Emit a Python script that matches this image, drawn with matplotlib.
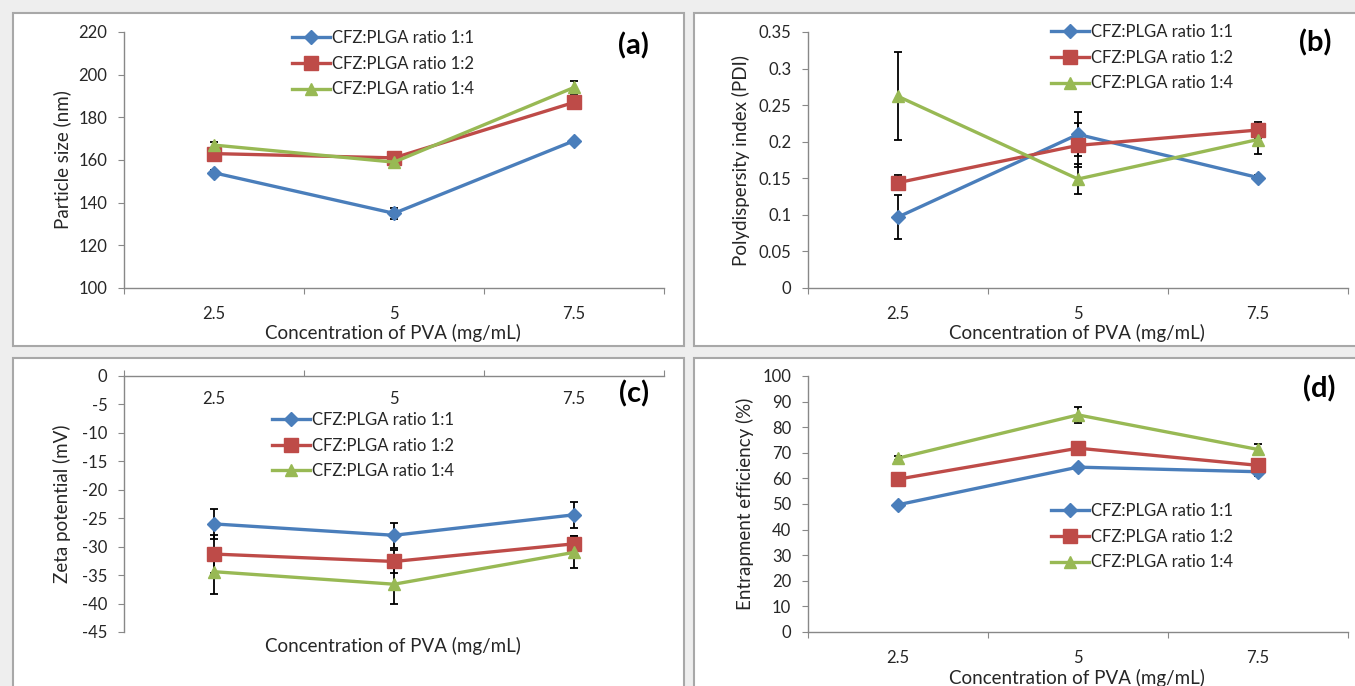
import matplotlib
matplotlib.use("Agg")
import matplotlib.pyplot as plt
from matplotlib.patches import Rectangle

plt.rcParams['font.family'] = ['Lato', 'DejaVu Sans']

conc_labels = ["2.5", "5", "7.5"]
series_names = ["CFZ:PLGA ratio 1:1", "CFZ:PLGA ratio 1:2", "CFZ:PLGA ratio 1:4"]

size_vals = [[154, 135, 169], [163, 161, 187], [167, 159, 194]]
size_err = [[1.5, 2.5, 1.0], [2.0, 2.0, 3.0], [1.5, 1.5, 3.0]]

pdi_vals = [[0.097, 0.210, 0.151], [0.144, 0.195, 0.216], [0.262, 0.149, 0.203]]
pdi_err = [[0.030, 0.030, 0.003], [0.010, 0.030, 0.011], [0.060, 0.020, 0.020]]

zeta_vals = [[-26.0, -28.0, -24.4], [-31.3, -32.6, -29.5], [-34.4, -36.6, -31.0]]
zeta_err = [[2.7, 2.2, 2.3], [3.3, 2.0, 1.4], [3.9, 3.4, 2.8]]

ee_vals = [[49.7, 64.4, 62.6], [59.7, 71.8, 65.1], [67.9, 84.8, 71.3]]
ee_err = [[0.5, 0.8, 1.5], [0.8, 0.8, 1.0], [0.8, 3.0, 2.2]]

colors = ["#4a7ebb", "#be4b48", "#98b954"]
markers = ["D", "s", "^"]
msizes = [7, 9.5, 8.5]

W, H = 1355, 686
fig = plt.figure(figsize=(W / 100, H / 100), dpi=100)
fig.patch.set_facecolor("#eeeeee")

def frac_rect(x0, y0, x1, y1):
    return (x0 / W, 1 - y1 / H, (x1 - x0) / W, (y1 - y0) / H)

# panel frames
for (x0, y0, x1, y1) in [(13, 13, 684, 346), (694, 13, 1362, 346),
                         (13, 358, 684, 700), (694, 358, 1362, 700)]:
    l, b, w, h = frac_rect(x0, y0, x1, y1)
    fig.patches.append(Rectangle((l, b), w, h, transform=fig.transFigure,
                                 facecolor="white", edgecolor="#a8a8a8", lw=1.5,
                                 zorder=-10))

txtc = "#262626"
TICK_FS = 12
LAB_FS = 13.5
LEG_FS = 12

def make_panel(rect, vals, errs, ylim, yticks, ylabel, tag, tagpos,
               legpos, xlabel_pos, ylabel_x, top_axis=False):
    ax = fig.add_axes(frac_rect(*rect))
    ax.set_facecolor("none")
    x = list(range(len(conc_labels)))
    lines = []
    for i in range(3):
        ax.errorbar(x, vals[i], yerr=errs[i], fmt="none", ecolor="black",
                    elinewidth=1.3, capsize=3, capthick=1.3, zorder=2)
        ln, = ax.plot(x, vals[i], color=colors[i], lw=2.4, marker=markers[i],
                      markersize=msizes[i], markeredgecolor=colors[i], zorder=3,
                      label=series_names[i])
        lines.append(ln)
    ax.set_xlim(-0.5, 2.5)
    ax.set_ylim(*ylim)
    ax.set_yticks(yticks)
    ax.set_yticklabels([f"{v:g}" for v in yticks])
    ax.spines["right"].set_visible(False)
    if top_axis:
        ax.spines["bottom"].set_visible(False)
    else:
        ax.spines["top"].set_visible(False)
    for s in ["left", "top", "bottom"]:
        ax.spines[s].set_color("#888888")
        ax.spines[s].set_linewidth(1.0)
    ax.tick_params(axis="y", direction="out", length=4, color="#888888",
                   labelsize=TICK_FS, labelcolor=txtc, pad=8)
    ax.set_xticks([-0.5, 0.5, 1.5, 2.5])
    ax.set_xticks(x, minor=True)
    ax.set_xticklabels([], minor=False)
    ax.set_xticklabels(conc_labels, minor=True)
    if top_axis:
        ax.tick_params(axis="x", which="major", bottom=False, top=True,
                       direction="out", length=4, color="#888888")
        ax.tick_params(axis="x", which="minor", bottom=False, top=True,
                       labeltop=True, labelbottom=False, length=0,
                       pad=-22, labelsize=TICK_FS, labelcolor=txtc)
    else:
        ax.tick_params(axis="x", which="major", direction="out", length=4,
                       color="#888888")
        ax.tick_params(axis="x", which="minor", length=0, pad=13,
                       labelsize=TICK_FS, labelcolor=txtc)
    fig.text(xlabel_pos[0] / W, 1 - xlabel_pos[1] / H, "Concentration of PVA (mg/mL)",
             ha="center", va="center", fontsize=LAB_FS, color=txtc)
    fig.text(ylabel_x / W, 1 - (rect[1] + rect[3]) / 2 / H, ylabel, rotation=90,
             ha="center", va="center", fontsize=LAB_FS, color=txtc)
    fig.text(tagpos[0] / W, 1 - tagpos[1] / H, tag, ha="center", va="center",
             fontsize=21, fontweight="bold", color="black")
    leg = ax.legend(handles=lines, loc="upper left",
                    bbox_to_anchor=(legpos[0] / W, 1 - legpos[1] / H),
                    bbox_transform=fig.transFigure, frameon=False,
                    fontsize=LEG_FS, handlelength=2.3, handletextpad=0.1,
                    labelspacing=0.58, borderpad=0, borderaxespad=0)
    for t in leg.get_texts():
        t.set_color(txtc)
    return ax

make_panel((124, 32, 664, 288), size_vals, size_err, (100, 220),
           list(range(100, 221, 20)), "Particle size (nm)",
           "(a)", (633, 46), (292, 30), (393, 333), 62)

make_panel((808, 32, 1348, 288), pdi_vals, pdi_err, (0, 0.35),
           [0, 0.05, 0.1, 0.15, 0.2, 0.25, 0.3, 0.35],
           "Polydispersity index (PDI)", "(b)", (1315, 43), (1051, 24),
           (1077, 333), 741)

make_panel((124, 376, 664, 632), zeta_vals, zeta_err, (-45, 0),
           list(range(-45, 1, 5)), "Zeta potential (mV)",
           "(c)", (634, 394), (272, 412), (393, 646), 62, top_axis=True)

make_panel((808, 376, 1348, 632), ee_vals, ee_err, (0, 100),
           list(range(0, 101, 10)), "Entrapment efficiency (%)",
           "(d)", (1319, 389), (1051, 503), (1077, 678), 745)

fig.savefig("out.png", dpi=100, facecolor=fig.get_facecolor())
